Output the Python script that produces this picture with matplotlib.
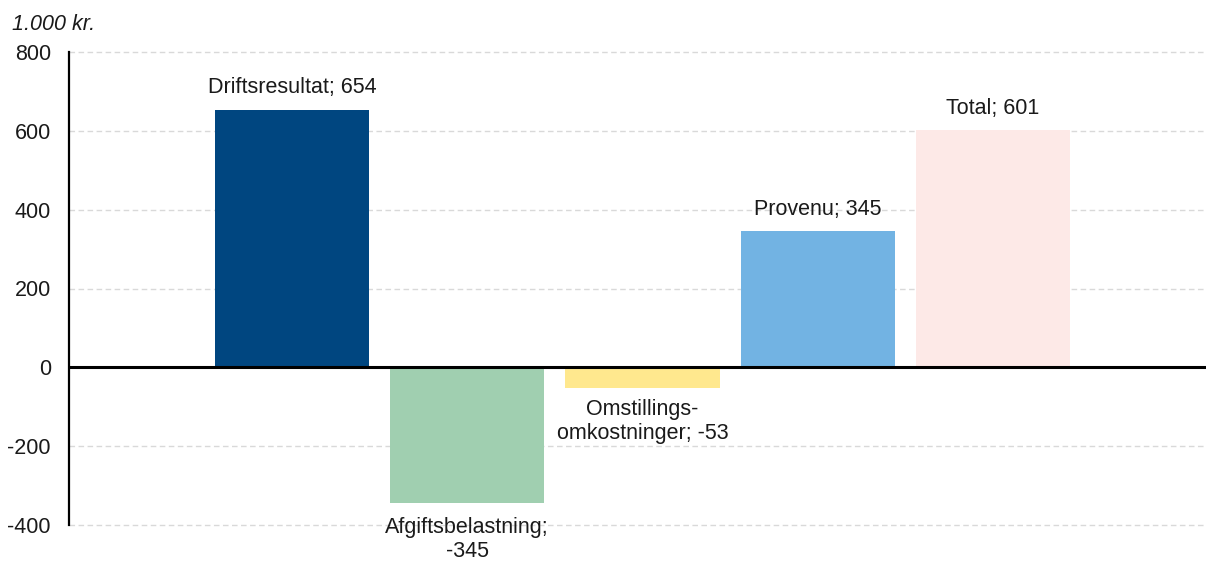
import matplotlib.pyplot as plt
import numpy as np

plt.rcParams['font.family'] = ['Liberation Sans', 'DejaVu Sans']

categories = ['Driftsresultat', 'Afgiftsbelastning', 'Omstillings-\nomkostninger',
              'Provenu', 'Total']
values = [654, -345, -53, 345, 601]
label_breaks = [' ', '\n', ' ', ' ', ' ']
colors = ['#004680', '#a0cfb0', '#ffe88e', '#72b3e3', '#fde9e7']
yticks = [-400, -200, 0, 200, 400, 600, 800]

FS = 15.5
TXT = '#1a1a1a'


def plot():
    fig = plt.figure(figsize=(12.06, 5.61), dpi=100)
    ax = fig.add_axes([69 / 1206, 36 / 561, 1 - 69 / 1206, 473 / 561])

    x = np.arange(len(values))
    ax.bar(x, values, width=0.88, color=colors, zorder=2)

    # label gap in points (the long label sits a bit lower in the original)
    gaps = [8, 10, 8, 8, 8]
    for xi, name, v, sep, gap in zip(x, categories, values, label_breaks, gaps):
        text = f'{name};{sep}{v}'
        if v >= 0:
            ax.annotate(text, (xi, v), xytext=(0, gap), textcoords='offset points',
                        ha='center', va='bottom', fontsize=FS, color=TXT,
                        zorder=4)
        else:
            ax.annotate(text, (xi, v), xytext=(0, -gap), textcoords='offset points',
                        ha='center', va='top', fontsize=FS, color=TXT,
                        linespacing=1.15, zorder=4, annotation_clip=False)

    ax.set_xlim(-1.272, 5.215)
    ax.set_ylim(-400, 800)
    ax.set_yticks(yticks)
    ax.set_yticklabels([str(t) for t in yticks], fontsize=FS, color=TXT)
    ax.set_xticks([])
    ax.tick_params(axis='y', length=0, pad=13)

    ax.grid(axis='y', color='#d9d9d9', linestyle=(0, (4, 2.5)), lw=1.0, zorder=0)
    for line in ax.yaxis.get_gridlines():
        line.set_clip_on(False)
    ax.axhline(0, color='black', lw=2.2, zorder=3)

    for side in ['top', 'right', 'bottom']:
        ax.spines[side].set_visible(False)
    ax.spines['left'].set_linewidth(1.6)
    ax.spines['left'].set_color('black')

    fig.text(12 / 1206, 1 - 24 / 561, '1.000 kr.', fontsize=FS, style='italic',
             color=TXT, va='center', ha='left')

    fig.savefig('out.png', dpi=100)


if __name__ == '__main__':
    plot()
